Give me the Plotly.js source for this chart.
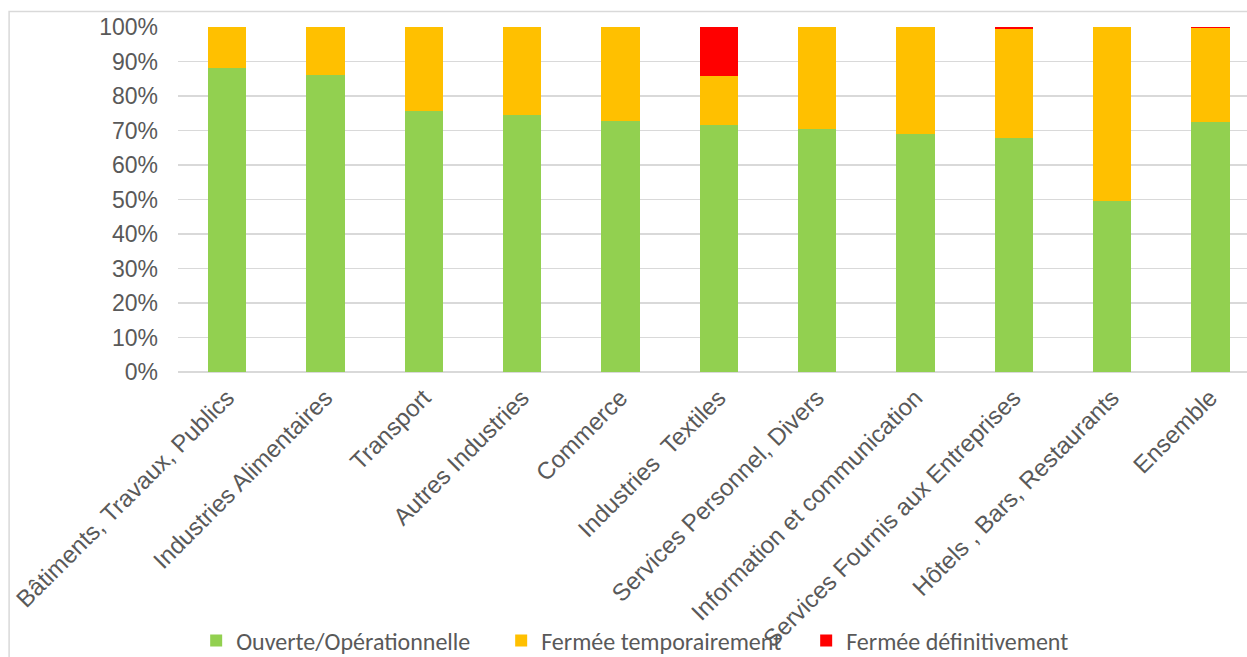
<!DOCTYPE html>
<html>
<head>
<meta charset="utf-8">
<script src="https://cdn.plot.ly/plotly-3.0.1.min.js"></script>
<style>
html,body{margin:0;padding:0;background:#fff;overflow:hidden;}
#chart{width:1247px;height:657px;}
</style>
</head>
<body>
<div id="chart"></div>
<script>
const categories = ["Bâtiments, Travaux, Publics","Industries Alimentaires","Transport","Autres Industries","Commerce","Industries\u00a0 Textiles","Services Personnel, Divers","Information et communication","Services Fournis aux Entreprises","Hôtels , Bars, Restaurants","Ensemble"];
const ouverte = [88.0, 86.0, 75.6, 74.4, 72.7, 71.5, 70.3, 69.0, 67.8, 49.7, 72.4];
const fermeeTemp = [12.0, 14.0, 24.4, 25.6, 27.3, 14.2, 29.7, 31.0, 31.6, 50.3, 27.3];
const fermeeDef = [0, 0, 0, 0, 0, 14.3, 0, 0, 0.6, 0, 0.3];
const seriesNames = ["Ouverte/Opérationnelle", "Fermée temporairement", "Fermée définitivement"];
const yTicks = [0,10,20,30,40,50,60,70,80,90,100];
const yTickLabels = ["0%","10%","20%","30%","40%","50%","60%","70%","80%","90%","100%"];

const colors = ["#92D050", "#FFC000", "#FF0000"];
const vals = [ouverte, fermeeTemp, fermeeDef];
const traces = vals.map((v, i) => ({
  type: 'bar',
  x: categories,
  y: v,
  name: seriesNames[i],
  marker: {color: colors[i], line: {width: 0}},
  hoverinfo: 'skip'
}));

const layout = {
  width: 1247, height: 657,
  margin: {l: 178, r: 0, t: 27, b: 285, pad: 0, autoexpand: false},
  paper_bgcolor: '#fff', plot_bgcolor: '#fff',
  barmode: 'stack',
  bargap: 0.61,
  font: {family: '"Liberation Sans", Arial, sans-serif', color: '#595959'},
  xaxis: {
    type: 'category',
    range: [-0.5, 10.373],
    tickangle: -45,
    tickfont: {size: 24, color: '#595959', family: '"Liberation Sans", Arial, sans-serif'},
    showgrid: false, zeroline: false,
    showline: false, ticks: '', ticklabelstandoff: 6, automargin: false, fixedrange: true
  },
  yaxis: {
    range: [0, 100],
    tickvals: yTicks, ticktext: yTickLabels,
    tickfont: {size: 23, color: '#595959', family: '"Liberation Sans", Arial, sans-serif'},
    showgrid: true, gridcolor: '#d9d9d9', gridwidth: 1.5,
    zeroline: true, zerolinecolor: '#d9d9d9', zerolinewidth: 1.5,
    showline: false, ticks: '', ticklabelstandoff: 19, automargin: false, fixedrange: true
  },
  legend: {
    orientation: 'h',
    x: 0.017, xanchor: 'left',
    y: -0.7797, yanchor: 'middle',
    font: {family: 'Carlito, Lato, "Open Sans", sans-serif', size: 24, color: '#595959'},
    bgcolor: 'rgba(0,0,0,0)',
    entrywidth: 260, entrywidthmode: 'pixels',
    traceorder: 'normal'
  },
  showlegend: true,
  shapes: [{
    type: 'rect', xref: 'paper', yref: 'paper',
    x0: -0.158, x1: 1.05, y0: -1.2, y1: 1.045,
    line: {color: '#d9d9d9', width: 1.5}, fillcolor: 'rgba(0,0,0,0)', layer: 'below'
  }]
};

Plotly.newPlot('chart', traces, layout, {staticPlot: true, displayModeBar: false});
</script>
</body>
</html>
